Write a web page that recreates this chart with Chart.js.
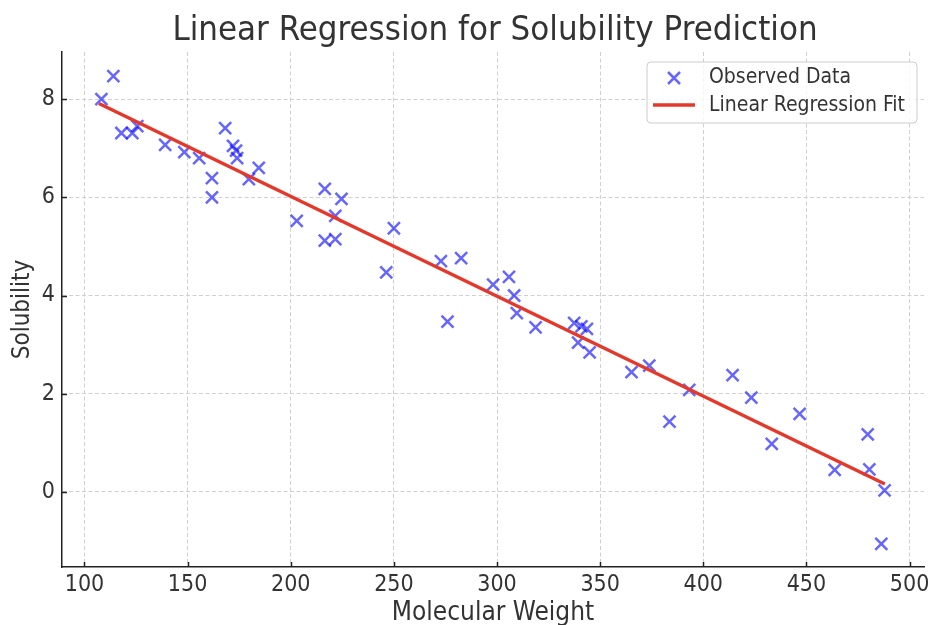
<!DOCTYPE html>
<html>
<head>
<meta charset="utf-8">
<title>Linear Regression for Solubility Prediction</title>
<script src="https://cdn.jsdelivr.net/npm/chart.js@4.4.1/dist/chart.umd.min.js"></script>
<style>
  html, body { margin: 0; padding: 0; background: #fff; }
  #wrap { width: 935px; height: 625px; }
</style>
</head>
<body>
<div id="wrap"><canvas id="myChart" width="935" height="625"></canvas></div>
<script>
// observed samples
const molWeight = [108.2, 114.0, 117.9, 123.2, 125.6, 139.1, 148.4, 155.6, 161.8, 161.8,
                   168.2, 172.0, 173.5, 174.0, 179.7, 184.5, 202.9, 216.5, 224.6, 221.6,
                   216.5, 221.6, 250.0, 246.3, 272.8, 282.6, 276.0, 298.1, 305.8, 308.3,
                   309.6, 318.7, 337.4, 340.9, 343.6, 339.3, 344.9, 365.2, 373.8, 393.2,
                   383.6, 414.2, 423.3, 433.2, 446.7, 463.7, 479.7, 480.5, 487.9, 486.3];
const solubility = [8.00, 8.47, 7.31, 7.31, 7.45, 7.07, 6.92, 6.80, 6.39, 6.00,
                    7.41, 7.05, 6.95, 6.80, 6.37, 6.60, 5.52, 6.17, 5.97, 5.62,
                    5.12, 5.15, 5.37, 4.47, 4.70, 4.76, 3.47, 4.22, 4.38, 4.00,
                    3.64, 3.35, 3.44, 3.37, 3.32, 3.04, 2.84, 2.44, 2.57, 2.08,
                    1.43, 2.38, 1.92, 0.98, 1.59, 0.45, 1.17, 0.46, 0.03, -1.06];

// fitted line end points
const fitX = [107.0, 488.0];
const fitY = [7.91, 0.16];

const xTicks = [100, 150, 200, 250, 300, 350, 400, 450, 500];
const yTicks = [0, 2, 4, 6, 8];

const FONT = '"DejaVu Sans Condensed", "DejaVu Sans", sans-serif';
const TEXT = '#333333';
const AXIS = '#222222';
const BLUE = 'rgba(0, 0, 255, 0.6)';
const RED = '#e5382a';

const observed = molWeight.map((x, i) => ({ x: x, y: solubility[i] }));
const fitted = fitX.map((x, i) => ({ x: x, y: fitY[i] }));

// title, inward tick marks and boxed legend drawn straight on the canvas
const decorations = {
  id: 'decorations',
  afterDraw(chart) {
    const c = chart.ctx;
    const area = chart.chartArea;
    const sx = chart.scales.x, sy = chart.scales.y;
    c.save();

    // tick marks point into the plot
    c.strokeStyle = AXIS;
    c.lineWidth = 1.5;
    c.beginPath();
    xTicks.forEach(v => {
      const px = Math.round(sx.getPixelForValue(v)) + 0.5;
      c.moveTo(px, area.bottom); c.lineTo(px, area.bottom - 5);
    });
    yTicks.forEach(v => {
      const py = Math.round(sy.getPixelForValue(v)) + 0.5;
      c.moveTo(area.left, py); c.lineTo(area.left + 5, py);
    });
    c.stroke();

    c.fillStyle = TEXT;
    c.font = '34.5px ' + FONT;
    c.textAlign = 'center';
    c.textBaseline = 'middle';
    c.fillText('Linear Regression for Solubility Prediction', 495, 31);

    // legend box
    const bx = 647, by = 62, bw = 270, bh = 61;
    c.beginPath();
    c.roundRect(bx, by, bw, bh, 4);
    c.fillStyle = 'rgba(255,255,255,0.8)';
    c.fill();
    c.strokeStyle = '#cccccc';
    c.lineWidth = 1;
    c.stroke();

    // cross marker
    c.strokeStyle = BLUE;
    c.lineWidth = 2.5;
    c.beginPath();
    c.moveTo(668, 72); c.lineTo(680, 84);
    c.moveTo(680, 72); c.lineTo(668, 84);
    c.stroke();

    // line sample
    c.strokeStyle = RED;
    c.lineWidth = 3.5;
    c.beginPath();
    c.moveTo(653, 105); c.lineTo(695, 105);
    c.stroke();

    c.fillStyle = TEXT;
    c.font = '21px ' + FONT;
    c.textAlign = 'left';
    c.fillText('Observed Data', 709, 78);
    c.fillText('Linear Regression Fit', 709, 106);
    c.restore();
  }
};

const ctx = document.getElementById('myChart');

new Chart(ctx, {
  type: 'scatter',
  data: {
    datasets: [
      {
        label: 'Observed Data',
        data: observed,
        pointStyle: 'crossRot',
        pointRadius: 8.5,
        pointHoverRadius: 8.5,
        borderColor: BLUE,
        backgroundColor: BLUE,
        pointBorderWidth: 2.5,
        order: 2
      },
      {
        label: 'Linear Regression Fit',
        type: 'line',
        data: fitted,
        borderColor: RED,
        borderWidth: 3.5,
        pointRadius: 0,
        fill: false,
        order: 1
      }
    ]
  },
  options: {
    responsive: false,
    animation: false,
    layout: { padding: { top: 52, right: 5, left: 0, bottom: 0 } },
    plugins: {
      legend: { display: false },
      title: { display: false },
      tooltip: { enabled: false }
    },
    scales: {
      x: {
        type: 'linear',
        min: 89.1,
        max: 507.0,
        afterFit: (s) => { s.height = 58; s.paddingLeft = 0; s.paddingRight = 0; },
        afterBuildTicks: (s) => { s.ticks = xTicks.map(v => ({ value: v })); },
        ticks: { color: TEXT, font: { family: FONT, size: 23 }, padding: 4, includeBounds: false },
        grid: { color: '#d0d0d0', lineWidth: 1, drawTicks: false },
        border: { display: true, color: AXIS, width: 1.5, dash: [4, 2.5] },
        title: { display: true, text: 'Molecular Weight', color: TEXT, font: { family: FONT, size: 26, lineHeight: 0.9 }, padding: { top: 0, bottom: 0 } }
      },
      y: {
        type: 'linear',
        min: -1.53,
        max: 8.96,
        afterFit: (s) => { s.width = 62; s.paddingTop = 0; s.paddingBottom = 0; },
        afterBuildTicks: (s) => { s.ticks = yTicks.map(v => ({ value: v })); },
        ticks: { color: TEXT, font: { family: FONT, size: 23 }, padding: 7, includeBounds: false },
        grid: { color: '#d0d0d0', lineWidth: 1, drawTicks: false },
        border: { display: true, color: AXIS, width: 1.5, dash: [4, 2.5] },
        title: { display: true, text: 'Solubility', color: TEXT, font: { family: FONT, size: 24 }, padding: { top: 8, bottom: 0 } }
      }
    }
  },
  plugins: [decorations]
});
</script>
</body>
</html>
